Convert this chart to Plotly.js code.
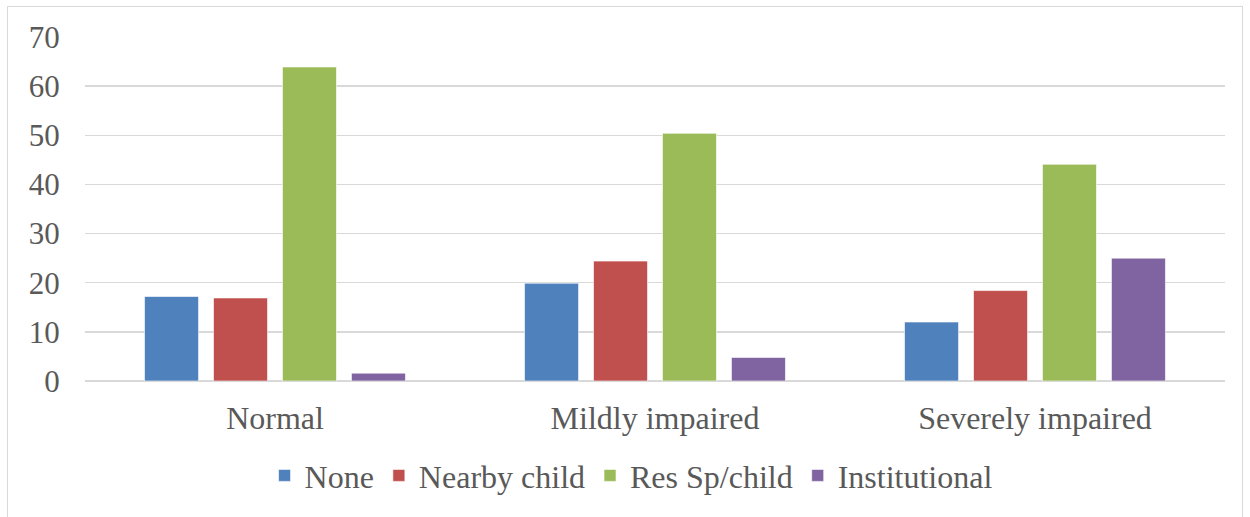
<!DOCTYPE html>
<html>
<head>
<meta charset="utf-8">
<script src="https://cdn.plot.ly/plotly-3.0.1.min.js"></script>
<style>
  html, body { margin: 0; padding: 0; background: #fff; }
  #wrap { position: relative; width: 1250px; height: 517px; }
  #chart { width: 1250px; height: 517px; }
  #frame { position: absolute; left: 7px; top: 6px; width: 1236px; height: 520px;
           border: 1.5px solid #d9d9d9; pointer-events: none; box-sizing: border-box; }
</style>
</head>
<body>
<div id="wrap">
  <div id="chart"></div>
  <div id="frame"></div>
</div>
<script>
const categories = ["Normal", "Mildly impaired", "Severely impaired"];
const seriesNames = ["None", "Nearby child", "Res Sp/child", "Institutional"];
const noneVals = [17.2, 19.9, 12.0];
const nearbyVals = [16.9, 24.4, 18.4];
const resSpVals = [63.9, 50.4, 44.1];
const institutionalVals = [1.6, 4.8, 25.0];
const yTicks = [0, 10, 20, 30, 40, 50, 60, 70];
const colors = ["#4F81BD", "#C0504D", "#9BBB59", "#8064A2"];

const allVals = [noneVals, nearbyVals, resSpVals, institutionalVals];
const traces = allVals.map((vals, i) => ({
  type: "bar",
  name: seriesNames[i],
  x: categories,
  y: vals,
  marker: { color: colors[i], line: { color: "rgba(255,255,255,0.6)", width: 1 } },
  hoverinfo: "x+y+name"
}));

const FAM = "Liberation Serif, Times New Roman, serif";
const mk = (s) => ({ family: FAM, size: s, color: "#595959" });

const layout = {
  width: 1250,
  height: 517,
  margin: { l: 85, r: 25, t: 37, b: 136 },
  paper_bgcolor: "#ffffff",
  plot_bgcolor: "#ffffff",
  barmode: "group",
  bargap: 0.274,
  bargroupgap: 0.217,
  font: mk(31),
  xaxis: {
    type: "category",
    showgrid: false,
    showline: false,
    zeroline: false,
    ticks: "outside",
    ticklen: 9,
    tickcolor: "rgba(0,0,0,0)",
    tickfont: mk(32)
  },
  yaxis: {
    range: [0, 70],
    tickvals: yTicks,
    ticktext: yTicks.map(String),
    showgrid: true,
    gridcolor: "#d9d9d9",
    gridwidth: 1.5,
    zeroline: true,
    zerolinecolor: "#d9d9d9",
    zerolinewidth: 1.5,
    showline: false,
    ticks: "outside",
    ticklen: 18,
    tickcolor: "rgba(0,0,0,0)",
    tickfont: mk(31)
  },
  showlegend: true,
  legend: {
    orientation: "h",
    x: 0.479,
    xanchor: "center",
    y: -0.195,
    yanchor: "top",
    font: mk(32),
    bgcolor: "rgba(0,0,0,0)"
  }
};

Plotly.newPlot("chart", traces, layout, { displayModeBar: false, staticPlot: true });
</script>
</body>
</html>
